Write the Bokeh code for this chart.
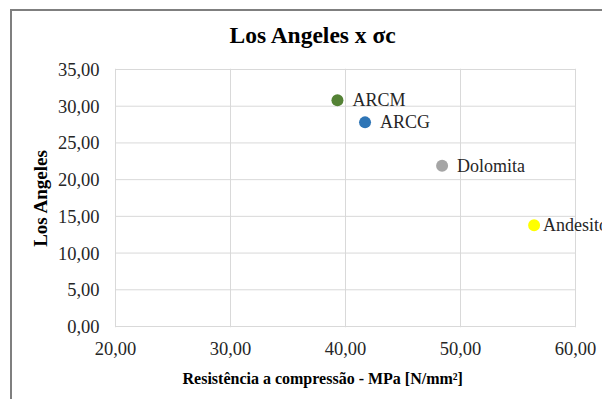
from bokeh.plotting import figure
from bokeh.models import ColumnDataSource, LabelSet, FixedTicker, Title
from bokeh.embed import file_html
from bokeh.resources import INLINE

# Rock types: compressive strength (MPa) vs Los Angeles abrasion
rocks = ["ARCM", "ARCG", "Dolomita", "Andesito"]
strength = [39.3, 41.7, 48.4, 56.4]
los_angeles = [30.8, 27.8, 21.9, 13.8]
colors = ["#548235", "#2E75B6", "#A5A5A5", "#FFFF00"]

x_ticks = [20, 30, 40, 50, 60]
x_tick_labels = ["20,00", "30,00", "40,00", "50,00", "60,00"]
y_ticks = [0, 5, 10, 15, 20, 25, 30, 35]
y_tick_labels = ["0,00", "5,00", "10,00", "15,00", "20,00", "25,00", "30,00", "35,00"]

FONT = "Liberation Serif"
GRID = "#d9d9d9"
label_dx = [15, 15, 15, 9]

src = ColumnDataSource(dict(x=strength, y=los_angeles, name=rocks,
                            color=colors, dx=label_dx))

# plot frame runs to the right edge so the last label is not cut by the frame;
# the x axis itself ends at 60
p = figure(width=592, height=390, output_backend="svg", toolbar_location=None,
           x_range=(19.913, 62.522), y_range=(-0.136, 35.136),
           min_border_left=102, min_border_right=0,
           min_border_top=57, min_border_bottom=74)
p.margin = (9, 0, 0, 10)
p.styles = {"border-left": "2px solid #7f7f7f", "border-top": "2px solid #7f7f7f"}
p.outline_line_color = None
p.background_fill_color = "white"
p.border_fill_color = "white"

# grid: vertical lines from the axis ticker, horizontal lines limited to 20..60
p.xgrid.ticker = FixedTicker(ticks=x_ticks)
p.xgrid.grid_line_color = GRID
p.ygrid.visible = False
p.segment(x0=[x_ticks[0]] * len(y_ticks), x1=[x_ticks[-1]] * len(y_ticks),
          y0=y_ticks, y1=y_ticks, line_color=GRID, line_width=1)

# axes
p.xaxis.ticker = FixedTicker(ticks=x_ticks)
p.yaxis.ticker = FixedTicker(ticks=y_ticks)
p.xaxis.major_label_overrides = dict(zip(x_ticks, x_tick_labels))
p.yaxis.major_label_overrides = dict(zip(y_ticks, y_tick_labels))
for ax in (p.xaxis[0], p.yaxis[0]):
    ax.axis_line_color = None
    ax.major_tick_line_color = None
    ax.minor_tick_line_color = None
    ax.major_label_text_font = FONT
    ax.major_label_text_font_size = "18.5px"
    ax.major_label_text_color = "#262626"
p.xaxis.major_label_standoff = 8
p.yaxis.major_label_standoff = 9

p.yaxis.axis_label = "Los Angeles"
p.yaxis.axis_label_text_font = FONT
p.yaxis.axis_label_text_font_size = "19px"
p.yaxis.axis_label_text_font_style = "bold"
p.yaxis.axis_label_text_color = "#000000"
p.yaxis.axis_label_standoff = 4

# points and their labels
p.scatter("x", "y", source=src, size=12, fill_color="color", line_color=None)
p.add_layout(LabelSet(x="x", y="y", text="name", source=src, x_offset="dx", y_offset=0,
                      text_font=FONT, text_font_size="18px", text_baseline="middle",
                      text_color="#262626"))

# chart title, lifted above the frame by a thin empty panel
p.add_layout(Title(text=" ", text_font_size="1px", standoff=16), "above")
p.add_layout(Title(text="Los Angeles x σc", align="left", offset=115,
                   text_font=FONT, text_font_size="23.5px", text_font_style="bold",
                   text_color="#000000", standoff=4), "above")

# x-axis title
p.add_layout(Title(text="Resistência a compressão - MPa [N/mm²]", align="left",
                   offset=68, text_font=FONT, text_font_size="16px",
                   text_font_style="bold", text_color="#000000", standoff=20),
             "below")

open("out.html", "w").write(file_html(p, INLINE))
